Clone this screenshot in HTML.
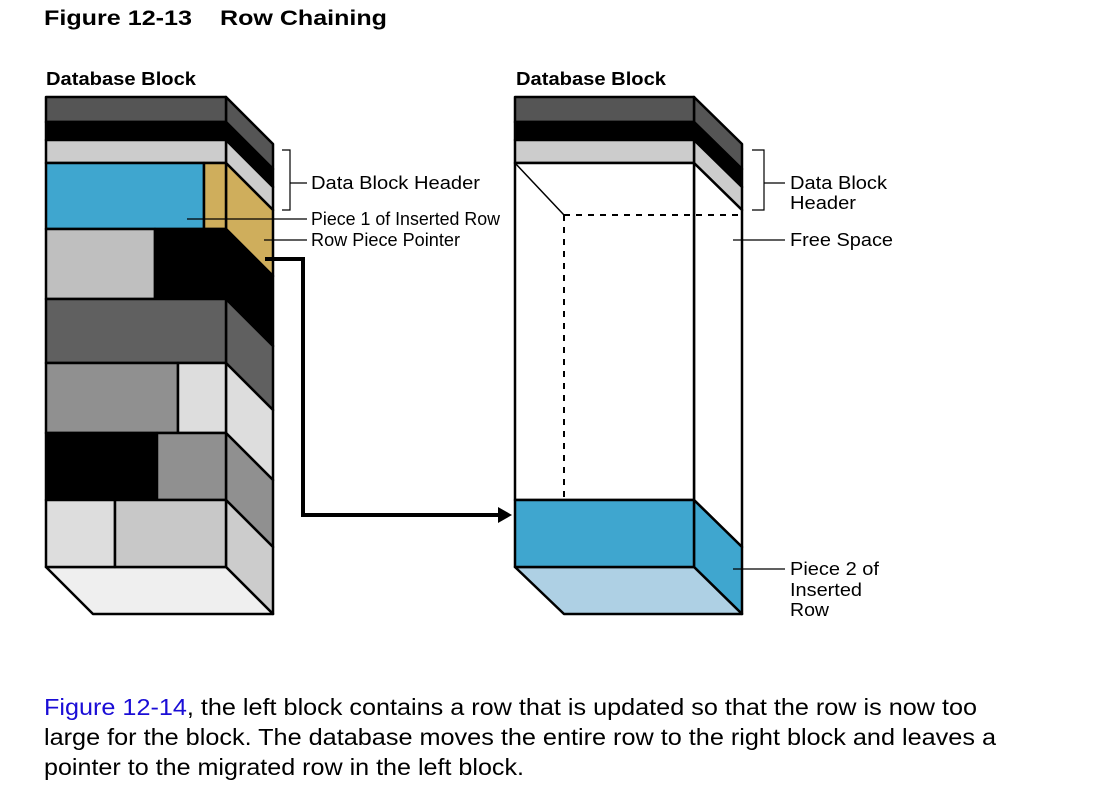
<!DOCTYPE html>
<html><head><meta charset="utf-8"><style>
html,body{margin:0;padding:0;background:#fff;width:1100px;height:804px;overflow:hidden}
svg{display:block}
text{font-family:"Liberation Sans",sans-serif}
</style></head><body>
<svg width="1100" height="804" viewBox="0 0 1100 804">
<text x="44" y="25" font-size="21" font-weight="bold" fill="#000" textLength="148" lengthAdjust="spacingAndGlyphs">Figure 12-13</text>
<text x="220" y="25" font-size="21" font-weight="bold" fill="#000" textLength="167" lengthAdjust="spacingAndGlyphs">Row Chaining</text>
<text x="46" y="85" font-size="18" font-weight="bold" textLength="150" lengthAdjust="spacingAndGlyphs">Database Block</text>
<text x="516" y="85" font-size="18" font-weight="bold" textLength="150" lengthAdjust="spacingAndGlyphs">Database Block</text>

<g stroke="#000" stroke-width="2.5" stroke-linejoin="round">
<polygon points="226,97 273,144 273,169 226,122" fill="#555"/>
<polygon points="226,122 273,169 273,187 226,140" fill="#000"/>
<polygon points="226,140 273,187 273,210 226,163" fill="#ccc"/>
<polygon points="226,163 273,210 273,276 226,229" fill="#cfae5c"/>
<polygon points="226,229 273,276 273,346 226,299" fill="#000"/>
<polygon points="226,299 273,346 273,410 226,363" fill="#606060"/>
<polygon points="226,363 273,410 273,480 226,433" fill="#ddd"/>
<polygon points="226,433 273,480 273,547 226,500" fill="#909090"/>
<polygon points="226,500 273,547 273,614 226,567" fill="#ccc"/>
<polygon points="46,567 226,567 273,614 93,614" fill="#efefef"/>
<rect x="46" y="97" width="180" height="25" fill="#555"/>
<rect x="46" y="122" width="180" height="18" fill="#000"/>
<rect x="46" y="140" width="180" height="23" fill="#ccc"/>
<rect x="46" y="163" width="158" height="66" fill="#3fa6cf"/>
<rect x="204" y="163" width="22" height="66" fill="#cfae5c"/>
<rect x="46" y="229" width="109" height="70" fill="#bfbfbf"/>
<rect x="155" y="229" width="71" height="70" fill="#000"/>
<rect x="46" y="299" width="180" height="64" fill="#606060"/>
<rect x="46" y="363" width="132" height="70" fill="#909090"/>
<rect x="178" y="363" width="48" height="70" fill="#ddd"/>
<rect x="46" y="433" width="111" height="67" fill="#000"/>
<rect x="157" y="433" width="69" height="67" fill="#909090"/>
<rect x="46" y="500" width="69" height="67" fill="#ddd"/>
<rect x="115" y="500" width="111" height="67" fill="#c8c8c8"/>

<polygon points="694,97 742,144 742,169 694,122" fill="#555"/>
<polygon points="694,122 742,169 742,187 694,140" fill="#000"/>
<polygon points="694,140 742,187 742,210 694,163" fill="#ccc"/>
<polygon points="694,163 742,210 742,547 694,500" fill="#fff"/>
<polygon points="694,500 742,547 742,614 694,567" fill="#3fa6cf"/>
<polygon points="515,567 694,567 742,614 564,614" fill="#aed0e4"/>
<rect x="515" y="97" width="179" height="25" fill="#555"/>
<rect x="515" y="122" width="179" height="18" fill="#000"/>
<rect x="515" y="140" width="179" height="23" fill="#ccc"/>
<rect x="515" y="163" width="179" height="337" fill="#fff"/>
<rect x="515" y="500" width="179" height="67" fill="#3fa6cf"/>
</g>
<line x1="515" y1="163" x2="564" y2="215" stroke="#000" stroke-width="1.5"/>
<path d="M564,215 H742 M564,215 V500" stroke="#000" stroke-width="2" stroke-dasharray="6,6" fill="none"/>

<path d="M265,259 H303 V515 H498" stroke="#000" stroke-width="4" fill="none"/>
<polygon points="498,507 512,515 498,523" fill="#000"/>

<g stroke="#000" stroke-width="1.2" fill="none">
<path d="M282,150 H290 V210 H282 M290,183 H307"/>
<path d="M187,219 H307"/>
<path d="M264,240 H307"/>
<path d="M752,150 H764 V210 H752 M764,183 H785"/>
<path d="M733,240 H785"/>
<path d="M733,569 H785"/>
</g>
<g font-size="18" fill="#000" lengthAdjust="spacingAndGlyphs">
<text x="311" y="189" textLength="169" lengthAdjust="spacingAndGlyphs">Data Block Header</text>
<text x="311" y="225" textLength="189" lengthAdjust="spacingAndGlyphs">Piece 1 of Inserted Row</text>
<text x="311" y="246" textLength="149" lengthAdjust="spacingAndGlyphs">Row Piece Pointer</text>
<text x="790" y="189" textLength="97" lengthAdjust="spacingAndGlyphs">Data Block</text>
<text x="790" y="209" textLength="66" lengthAdjust="spacingAndGlyphs">Header</text>
<text x="790" y="246" textLength="103" lengthAdjust="spacingAndGlyphs">Free Space</text>
<text x="790" y="575" textLength="89" lengthAdjust="spacingAndGlyphs">Piece 2 of</text>
<text x="790" y="596" textLength="72" lengthAdjust="spacingAndGlyphs">Inserted</text>
<text x="790" y="616" textLength="39" lengthAdjust="spacingAndGlyphs">Row</text>
</g>
<g font-size="23" fill="#000">
<text x="44" y="715" textLength="933" lengthAdjust="spacingAndGlyphs"><tspan fill="#1a0dd6">Figure 12-14</tspan>, the left block contains a row that is updated so that the row is now too</text>
<text x="44" y="745" textLength="952" lengthAdjust="spacingAndGlyphs">large for the block. The database moves the entire row to the right block and leaves a</text>
<text x="44" y="775" textLength="480" lengthAdjust="spacingAndGlyphs">pointer to the migrated row in the left block.</text>
</g>
</svg>
</body></html>
